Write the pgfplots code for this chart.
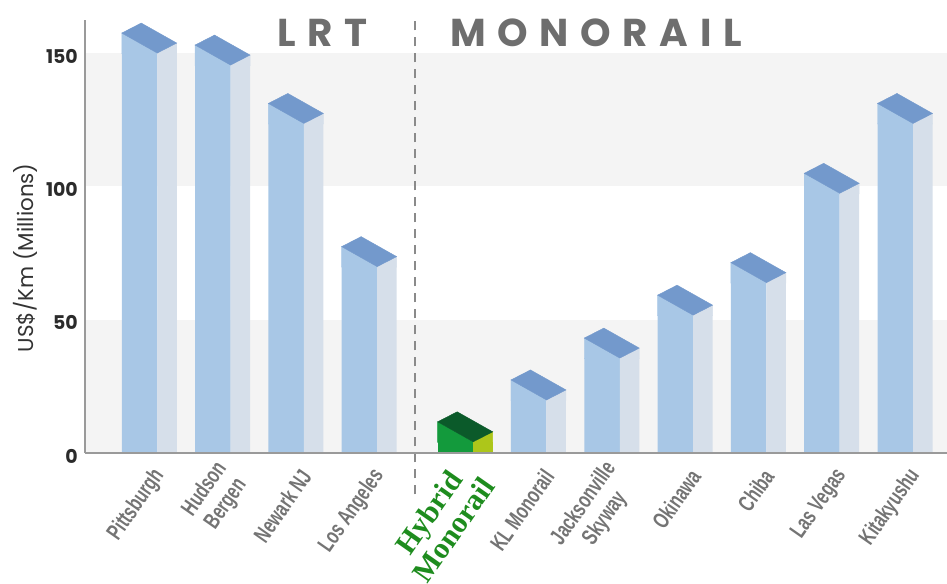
\documentclass[border=0pt]{standalone}
\usepackage{pgfplots}
\pgfplotsset{compat=1.18}
\usepackage{pgfplotstable}
\usepackage{fontspec}
\setmainfont{Poppins}
\newfontfamily\condfont[FakeStretch=0.70]{Liberation Sans}
\newfontfamily\hybfont{Liberation Serif}
\newfontfamily\headfont[LetterSpace=30]{Poppins}

\definecolor{cfront}{HTML}{A8C7E6}
\definecolor{cside}{HTML}{D6DFEA}
\definecolor{ctop}{HTML}{7399CC}
\definecolor{gfront}{HTML}{139A3C}
\definecolor{gside}{HTML}{ADC61A}
\definecolor{gtop}{HTML}{0B5A2A}
\definecolor{band}{HTML}{F4F4F4}
\definecolor{labgray}{HTML}{747474}
\definecolor{headgray}{HTML}{6E6E6E}
\definecolor{axgray}{HTML}{9A9A9A}
\definecolor{dashgray}{HTML}{8A8A8A}
\definecolor{hybgreen}{HTML}{1E8C1E}
\definecolor{tickdark}{HTML}{2B2B2B}
\definecolor{labdark}{HTML}{333333}

\newcommand\cubetop[3]{%
  \pgfsetlinewidth{0.4bp}%
  \pgfsetfillcolor{#1}\pgfsetstrokecolor{#1}%
  \pgfpathmoveto{\pgfpoint{-17.75bp}{-0.6bp}}%
  \pgfpathlineto{\pgfpoint{-17.75bp}{20bp}}%
  \pgfpathlineto{\pgfpoint{17.75bp}{0bp}}%
  \pgfpathlineto{\pgfpoint{17.75bp}{-0.6bp}}%
  \pgfpathclose\pgfusepath{fill,stroke}%
  \pgfsetfillcolor{#2}\pgfsetstrokecolor{#2}%
  \pgfpathmoveto{\pgfpoint{17.75bp}{-0.6bp}}%
  \pgfpathlineto{\pgfpoint{17.75bp}{0bp}}%
  \pgfpathlineto{\pgfpoint{37.25bp}{10bp}}%
  \pgfpathlineto{\pgfpoint{37.25bp}{-0.6bp}}%
  \pgfpathclose\pgfusepath{fill,stroke}%
  \pgfsetfillcolor{#3}\pgfsetstrokecolor{#3}%
  \pgfpathmoveto{\pgfpoint{-17.75bp}{20bp}}%
  \pgfpathlineto{\pgfpoint{1.75bp}{30bp}}%
  \pgfpathlineto{\pgfpoint{37.25bp}{10bp}}%
  \pgfpathlineto{\pgfpoint{17.75bp}{0bp}}%
  \pgfpathclose\pgfusepath{fill,stroke}%
}
\pgfdeclareplotmark{cubeblue}{\cubetop{cfront}{cside}{ctop}}
\pgfdeclareplotmark{cubegreen}{\cubetop{gfront}{gside}{gtop}}

\pgfplotstableread{
x y
0 150.0
1 145.5
2 123.6
3 69.9
5.31 19.9
6.31 35.6
7.31 51.7
8.31 63.9
9.31 97.4
10.31 123.6
}\bluedata
\pgfplotstableread{
x y
4.31 4.2
}\greendata

\newcommand\hyb{\hybfont\bfseries\color{hybgreen}\fontsize{30}{34}\selectfont}

\begin{document}
\begin{tikzpicture}
\useasboundingbox (0,0) rectangle (947bp,584bp);
\begin{axis}[
  at={(85bp,131bp)}, anchor=south west,
  scale only axis, width=862bp, height=433bp,
  xmin=-0.7435, xmax=11.016, ymin=0, ymax=162.4,
  axis lines=left,
  axis line style={-, line width=2bp, draw=axgray},
  axis on top, clip=false,
  major tick length=0pt,
  ytick={0,50,100,150},
  xtick={0,1,2,3,4.31,5.31,6.31,7.31,8.31,9.31,10.31},
  xticklabels={Pittsburgh, Hudson\\Bergen, Newark NJ, Los Angeles, {\hyb Hybrid\\[2bp]\hyb Monorail}, KL Monorail, Jacksonville\\Skyway, Okinawa, Chiba, Las Vegas, Kitakyushu},
  /pgf/number format/assume math mode=true,
  yticklabel style={font=\bfseries\fontsize{19}{19}\selectfont, text=tickdark, anchor=east, inner sep=0pt, xshift=-7bp, yshift=-3bp},
  xticklabel style={font=\condfont\bfseries\fontsize{23}{26}\selectfont, text=labgray, xshift=20bp, yshift=-19bp, rotate=55, anchor=east, align=center, inner sep=0pt},
  ylabel={US\$/Km (Millions)},
  ylabel style={at={(axis description cs:-0.0696,0.451)}, anchor=center, font=\fontsize{21.5}{21.5}\selectfont, text=labdark},
]
\addplot[fill=band, draw=none] coordinates {(-0.7435,0) (11.016,0) (11.016,50) (-0.7435,50)};
\addplot[fill=band, draw=none] coordinates {(-0.7435,100) (11.016,100) (11.016,150) (-0.7435,150)};
\addplot[draw=dashgray, line width=2bp, dash pattern=on 9bp off 7bp] coordinates {(3.758,-15.5) (3.758,164.5)};
\addplot[ybar, bar width=35.5bp, bar shift=0pt, fill=cfront, draw=none] table[x=x,y=y] {\bluedata};
\addplot[ybar, bar width=19.5bp, bar shift=27.5bp, fill=cside, draw=none] table[x=x,y=y] {\bluedata};
\addplot[only marks, mark=cubeblue] table[x=x,y=y] {\bluedata};
\addplot[ybar, bar width=35.5bp, bar shift=0pt, fill=gfront, draw=none] table[x=x,y=y] {\greendata};
\addplot[ybar, bar width=19.5bp, bar shift=27.5bp, fill=gside, draw=none] table[x=x,y=y] {\greendata};
\addplot[only marks, mark=cubegreen] table[x=x,y=y] {\greendata};
\end{axis}
\node[anchor=base west, inner sep=0pt, text=headgray, font=\headfont\bfseries\fontsize{39}{39}\selectfont] at (277bp,537bp) {LRT};
\node[anchor=base west, inner sep=0pt, text=headgray, font=\headfont\bfseries\fontsize{39}{39}\selectfont] at (450bp,537bp) {MONORAIL};
\end{tikzpicture}
\end{document}
